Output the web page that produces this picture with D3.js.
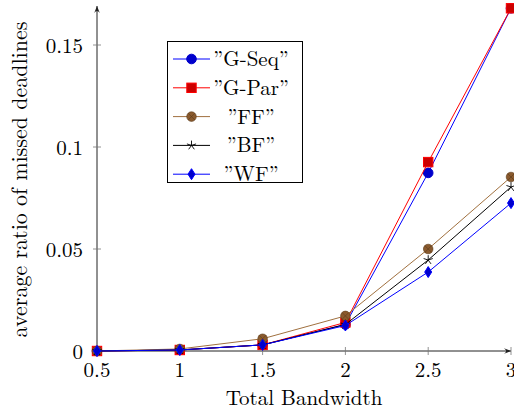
<!DOCTYPE html>
<html>
<head>
<meta charset="utf-8">
<script src="https://cdn.jsdelivr.net/npm/d3@7"></script>
<style>
  body { margin: 0; background: #fff; }
  text { font-family: "Latin Modern Roman", "DejaVu Serif", serif; }
</style>
</head>
<body>
<div id="chart"></div>
<script>
// data
const bandwidth = [0.5, 1, 1.5, 2, 2.5, 3];
const gSeq = [0, 0.0005, 0.003, 0.013, 0.0873, 0.168];
const gPar = [0, 0.0005, 0.003, 0.014, 0.0926, 0.168];
const ff = [0, 0.001, 0.006, 0.0172, 0.05, 0.0853];
const bf = [0, 0.0005, 0.003, 0.013, 0.0446, 0.0804];
const wf = [0, 0.0005, 0.003, 0.0125, 0.0387, 0.0725];
const xTicks = [0.5, 1, 1.5, 2, 2.5, 3];
const yTicks = [0, 0.05, 0.1, 0.15];

const series = [
  { name: "\u201DG-Seq\u201D", values: gSeq, line: "#0000ff", fill: "#0000cc", mark: "circle" },
  { name: "\u201DG-Par\u201D", values: gPar, line: "#ff0000", fill: "#cc0000", mark: "square" },
  { name: "\u201DFF\u201D", values: ff, line: "#a0703f", fill: "#8a5a2e", mark: "otimes" },
  { name: "\u201DBF\u201D", values: bf, line: "#000000", fill: "#000000", mark: "star" },
  { name: "\u201DWF\u201D", values: wf, line: "#0000ff", fill: "#0000cc", mark: "diamond" }
];

const width = 514, height = 410;
const fs = 21;
const svg = d3.select("#chart").append("svg")
  .attr("width", width).attr("height", height);

const x = d3.scaleLinear().domain([0.5, 3]).range([97, 511]);
const y = d3.scaleLinear().domain([0, 0.15]).range([351, 45]);

// axes with arrow heads
svg.append("defs").append("marker")
  .attr("id", "arrow").attr("viewBox", "0 0 10 10")
  .attr("refX", 10).attr("refY", 5)
  .attr("markerWidth", 7).attr("markerHeight", 7)
  .attr("orient", "auto")
  .append("path").attr("d", "M0,1 Q6,5 0,9 L10,5 Z").attr("fill", "#222");

svg.append("line")
  .attr("x1", x(0.5)).attr("x2", x(3)).attr("y1", y(0)).attr("y2", y(0))
  .attr("stroke", "#222").attr("stroke-width", 1).attr("marker-end", "url(#arrow)");
svg.append("line")
  .attr("x1", x(0.5)).attr("x2", x(0.5)).attr("y1", y(0)).attr("y2", 6)
  .attr("stroke", "#222").attr("stroke-width", 1).attr("marker-end", "url(#arrow)");

// ticks crossing the axes
svg.selectAll(".xt").data(xTicks).enter().append("line")
  .attr("x1", d => x(d)).attr("x2", d => x(d))
  .attr("y1", y(0) - 4).attr("y2", y(0) + 4)
  .attr("stroke", "#777").attr("stroke-width", 0.8);
svg.selectAll(".yt").data(yTicks).enter().append("line")
  .attr("x1", x(0.5) - 4).attr("x2", x(0.5) + 4)
  .attr("y1", d => y(d)).attr("y2", d => y(d))
  .attr("stroke", "#777").attr("stroke-width", 0.8);

svg.selectAll(".xl").data(xTicks).enter().append("text")
  .attr("x", d => x(d)).attr("y", 377)
  .attr("text-anchor", "middle").attr("font-size", fs)
  .text(d => d);
svg.selectAll(".yl").data(yTicks).enter().append("text")
  .attr("x", 83).attr("y", d => y(d) + 7.5)
  .attr("text-anchor", "end").attr("font-size", fs)
  .text(d => d);

svg.append("text")
  .attr("x", 304).attr("y", 405)
  .attr("text-anchor", "middle").attr("font-size", fs)
  .text("Total Bandwidth");
svg.append("text")
  .attr("transform", "translate(27, 179.5) rotate(-90)")
  .attr("text-anchor", "middle").attr("font-size", 22)
  .text("average ratio of missed deadlines");

function drawMark(g, type, fill, line) {
  if (type === "circle") {
    g.append("circle").attr("r", 4.8).attr("fill", fill).attr("stroke", fill);
  } else if (type === "square") {
    g.append("rect").attr("x", -4.7).attr("y", -4.7).attr("width", 9.4).attr("height", 9.4)
      .attr("fill", fill).attr("stroke", line);
  } else if (type === "otimes") {
    g.append("circle").attr("r", 4.8).attr("fill", fill).attr("stroke", "#5a3a1a").attr("stroke-width", 0.6);
    g.append("path").attr("d", "M-3.3,-3.3L3.3,3.3M-3.3,3.3L3.3,-3.3")
      .attr("stroke", "#5a3a1a").attr("stroke-width", 0.6);
  } else if (type === "star") {
    const r = 4.8;
    let d = "";
    for (let i = 0; i < 5; i++) {
      const a = -Math.PI / 2 + i * 2 * Math.PI / 5;
      d += `M0,0L${r * Math.cos(a)},${r * Math.sin(a)}`;
    }
    g.append("path").attr("d", d).attr("stroke", "#000").attr("stroke-width", 0.9).attr("fill", "none");
  } else if (type === "diamond") {
    g.append("path").attr("d", "M0,-5.5L3.5,0L0,5.5L-3.5,0Z").attr("fill", fill).attr("stroke", line);
  }
}

const lineGen = d3.line().x(d => x(d[0])).y(d => y(d[1]));

series.forEach(s => {
  const pts = bandwidth.map((b, i) => [b, s.values[i]]);
  svg.append("path").datum(pts)
    .attr("d", lineGen).attr("fill", "none")
    .attr("stroke", s.line).attr("stroke-width", 1);
  pts.forEach(p => {
    const g = svg.append("g").attr("transform", `translate(${x(p[0])},${y(p[1])})`);
    drawMark(g, s.mark, s.fill, s.line);
  });
});

// legend
const legend = svg.append("g");
legend.append("rect")
  .attr("x", 167.5).attr("y", 41.5).attr("width", 135).attr("height", 141)
  .attr("fill", "#fff").attr("stroke", "#000").attr("stroke-width", 1);
series.forEach((s, i) => {
  const cy = 59 + i * 28.8;
  legend.append("line").attr("x1", 173).attr("x2", 210).attr("y1", cy).attr("y2", cy)
    .attr("stroke", s.line).attr("stroke-width", 1);
  const g = legend.append("g").attr("transform", `translate(191.5,${cy})`);
  drawMark(g, s.mark, s.fill, s.line);
  legend.append("text").attr("x", 251).attr("y", cy + 7)
    .attr("text-anchor", "middle").attr("font-size", fs)
    .text(s.name);
});
</script>
</body>
</html>
